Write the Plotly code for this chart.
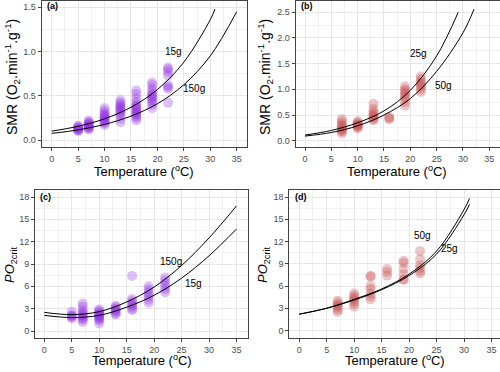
import plotly.graph_objects as go

# ---------------- DATA ----------------
# Panel (a): SMR, purple species
a_temp = [5]*8 + [7]*10 + [10]*12 + [13]*12 + [16]*15 + [19]*12 + [22]*8
a_smr = [0.10, 0.11, 0.12, 0.12, 0.13, 0.14, 0.15, 0.16,
         0.12, 0.13, 0.14, 0.15, 0.16, 0.17, 0.18, 0.19, 0.20, 0.22,
         0.17, 0.19, 0.20, 0.22, 0.23, 0.25, 0.26, 0.27, 0.29, 0.30, 0.33, 0.36,
         0.20, 0.24, 0.28, 0.30, 0.32, 0.34, 0.35, 0.37, 0.38, 0.40, 0.42, 0.45,
         0.22, 0.25, 0.27, 0.29, 0.30, 0.32, 0.33, 0.35, 0.37, 0.38, 0.40, 0.43, 0.47, 0.52, 0.56,
         0.36, 0.40, 0.43, 0.45, 0.47, 0.49, 0.50, 0.52, 0.55, 0.58, 0.62, 0.65,
         0.42, 0.58, 0.60, 0.62, 0.73, 0.77, 0.80, 0.82]
a_fit15_t = [0, 5, 10, 15, 20, 25, 30, 30.9]
a_fit15_v = [0.10, 0.155, 0.24, 0.37, 0.57, 0.88, 1.36, 1.48]
a_fit150_t = [0, 5, 10, 15, 20, 25, 30, 35]
a_fit150_v = [0.075, 0.114, 0.176, 0.27, 0.41, 0.625, 0.95, 1.45]

# Panel (b): SMR, red species
b_temp = [7]*10 + [10]*8 + [13]*9 + [16]*3 + [19]*9 + [22]*8
b_smr = [0.14, 0.18, 0.20, 0.22, 0.25, 0.27, 0.30, 0.33, 0.38, 0.42,
         0.24, 0.26, 0.28, 0.30, 0.31, 0.33, 0.35, 0.38,
         0.40, 0.42, 0.45, 0.47, 0.50, 0.53, 0.57, 0.62, 0.72,
         0.42, 0.44, 0.46,
         0.68, 0.75, 0.82, 0.86, 0.90, 0.93, 0.97, 1.00, 1.06,
         0.95, 1.00, 1.05, 1.08, 1.12, 1.15, 1.20, 1.25]
b_fit25_t = [0, 5, 10, 15, 20, 25, 29.1]
b_fit25_v = [0.11, 0.20, 0.35, 0.58, 0.98, 1.65, 2.50]
b_fit50_t = [0, 5, 10, 15, 20, 25, 30, 32.1]
b_fit50_v = [0.09, 0.16, 0.29, 0.50, 0.82, 1.35, 2.10, 2.56]

# Panel (c): PO2crit, purple species
c_temp = [5]*5 + [7]*10 + [10]*11 + [13]*7 + [16]*8 + [19]*7 + [22]*6
c_po2 = [1.7, 1.9, 2.0, 2.1, 2.6,
         1.2, 1.5, 1.7, 1.9, 2.1, 2.3, 2.5, 2.8, 3.3, 3.7,
         1.0, 1.4, 1.6, 1.8, 1.9, 2.0, 2.2, 2.3, 2.5, 2.7, 2.9,
         2.2, 2.4, 2.6, 2.8, 3.0, 3.2, 3.4,
         2.8, 3.0, 3.3, 3.5, 3.7, 4.0, 4.3, 7.4,
         3.8, 4.2, 4.6, 4.9, 5.2, 5.6, 6.0,
         5.2, 5.6, 6.0, 6.4, 6.8, 7.2]
c_fit150_t = [0, 5, 10, 15, 20, 25, 30, 35]
c_fit150_v = [2.5, 2.2, 2.6, 3.9, 5.9, 8.8, 12.5, 16.8]
c_fit15_t = [0, 5, 10, 15, 20, 25, 30, 35]
c_fit15_v = [2.1, 1.8, 2.1, 3.2, 4.8, 7.1, 10.1, 13.7]

# Panel (d): PO2crit, red species
d_temp = [7]*7 + [10]*7 + [13]*7 + [16]*3 + [19]*6 + [22]*6
d_po2 = [2.5, 2.8, 3.1, 3.3, 3.5, 3.7, 4.0,
         3.2, 3.6, 3.9, 4.2, 4.4, 4.7, 5.0,
         4.2, 4.6, 5.0, 5.6, 6.0, 7.3, 7.3,
         7.4, 7.9, 8.3,
         6.8, 6.9, 7.6, 8.3, 9.1, 9.4,
         7.7, 8.0, 8.4, 8.8, 9.6, 10.7]
d_fit50_t = [0, 5, 10, 15, 20, 25, 30, 31]
d_fit50_v = [2.2, 3.0, 4.2, 5.6, 7.6, 10.7, 16.3, 17.8]
d_fit25_t = [0, 5, 10, 15, 20, 25, 30, 31]
d_fit25_v = [2.2, 3.0, 4.1, 5.5, 7.4, 10.3, 15.6, 17.0]

x_ticks = [0, 5, 10, 15, 20, 25, 30, 35]
smr_a_ticks = [0.0, 0.5, 1.0, 1.5]
smr_b_ticks = [0.0, 0.5, 1.0, 1.5, 2.0, 2.5]
po2_ticks = [0, 3, 6, 9, 12, 15, 18]

# ---------------- LAYOUT GEOMETRY (pixels) ----------------
W, H = 500, 372
PURPLE = "rgba(145,48,224,0.30)"
RED = "rgba(200,80,80,0.32)"
FONT = "Liberation Sans, Arial, sans-serif"

geo = {
    "a": dict(x0=51.7, x35=236.7, left=41.5, right=246.5, yv0=140.0, vref=1.5, yvref=7.3, top=0.5, bottom=146.7),
    "b": dict(x0=305.0, x35=489.3, left=295.5, right=499.5, yv0=140.7, vref=2.5, yvref=12.3, top=0.5, bottom=146.7),
    "c": dict(x0=44.3, x35=236.5, left=35.0, right=248.0, yv0=331.0, vref=18, yvref=197.0, top=190.3, bottom=337.7),
    "d": dict(x0=299.2, x35=491.5, left=289.3, right=499.5, yv0=330.5, vref=18, yvref=197.0, top=190.3, bottom=337.7),
}

fig = go.Figure()

panels = [
    ("a", "", PURPLE, a_temp, a_smr, [(a_fit15_t, a_fit15_v), (a_fit150_t, a_fit150_v)], smr_a_ticks, "0.1f"),
    ("b", "2", RED, b_temp, b_smr, [(b_fit25_t, b_fit25_v), (b_fit50_t, b_fit50_v)], smr_b_ticks, "0.1f"),
    ("c", "3", PURPLE, c_temp, c_po2, [(c_fit150_t, c_fit150_v), (c_fit15_t, c_fit15_v)], po2_ticks, "d"),
    ("d", "4", RED, d_temp, d_po2, [(d_fit50_t, d_fit50_v), (d_fit25_t, d_fit25_v)], po2_ticks, "d"),
]

for key, sfx, col, tx, vy, fits, yticks, fmt in panels:
    g = geo[key]
    pxu = (g["x35"] - g["x0"]) / 35.0
    xr = [(g["left"] - g["x0"]) / pxu, (g["right"] - g["x0"]) / pxu]
    pyu = (g["yv0"] - g["yvref"]) / g["vref"]
    yr = [(g["yv0"] - g["bottom"]) / pyu, (g["yv0"] - g["top"]) / pyu]
    xa = "x" + sfx
    ya = "y" + sfx
    fig.add_trace(go.Scatter(x=tx, y=vy, mode="markers", xaxis=xa, yaxis=ya,
                             marker=dict(size=10, color=col, line=dict(width=0)),
                             showlegend=False, hoverinfo="skip"))
    for ft, fv in fits:
        fig.add_trace(go.Scatter(x=ft, y=fv, mode="lines", xaxis=xa, yaxis=ya,
                                 line=dict(color="black", width=1, shape="spline", smoothing=1.0),
                                 showlegend=False, hoverinfo="skip"))
    common = dict(showline=True, mirror=True, linecolor="#444444", linewidth=1,
                  ticks="outside", ticklen=3, tickcolor="#444444", tickwidth=1,
                  showgrid=True, gridcolor="#E6E6E6", gridwidth=1, zeroline=False,
                  tickfont=dict(family=FONT, size=9, color="#4d4d4d"))
    fig.layout["xaxis" + sfx] = dict(common, domain=[g["left"] / W, g["right"] / W], range=xr,
                                     anchor=ya, tickvals=x_ticks,
                                     minor=dict(showgrid=True, gridcolor="#F2F2F2", gridwidth=0.6,
                                                tickvals=[t + 2.5 for t in x_ticks[:-1]]))
    if fmt == "d":
        ticktext = [str(int(t)) for t in yticks]
    else:
        ticktext = ["%.1f" % t for t in yticks]
    mids = [(yticks[i] + yticks[i + 1]) / 2 for i in range(len(yticks) - 1)]
    fig.layout["yaxis" + sfx] = dict(common, domain=[1 - g["bottom"] / H, 1 - g["top"] / H], range=yr,
                                     anchor=xa, tickvals=yticks, ticktext=ticktext,
                                     minor=dict(showgrid=True, gridcolor="#F2F2F2", gridwidth=0.6,
                                                tickvals=mids))

ann = []
def pann(text, px, py, size=13, angle=0, **kw):
    ann.append(dict(text=text, x=px / W, y=1 - py / H, xref="paper", yref="paper",
                    showarrow=False, textangle=angle, xanchor=kw.get("xanchor", "center"),
                    yanchor=kw.get("yanchor", "middle"),
                    font=dict(family=FONT, size=size, color="black")))

temp_title = "Temperature (<sup>o</sup>C)"
pann(temp_title, 144, 171)
pann(temp_title, 397, 171)
pann(temp_title, 142, 360)
pann(temp_title, 395, 360)
smr_title = "SMR (O<sub>2</sub>.min<sup>-1</sup>.g<sup>-1</sup>)"
pann(smr_title, 12, 77, size=14, angle=-90)
pann(smr_title, 265, 77, size=14, angle=-90)
po2_title = "<i>PO</i><sub>2crit</sub>"
pann(po2_title, 10, 265, angle=-90)
pann(po2_title, 263, 265, angle=-90)

pann("<b>(a)</b>", 44.5, 6.5, size=9, xanchor="left")
pann("<b>(b)</b>", 298.5, 6.5, size=9, xanchor="left")
pann("<b>(c)</b>", 37.5, 197, size=9, xanchor="left")
pann("<b>(d)</b>", 292.5, 197, size=9, xanchor="left")

# curve labels (data coordinates)
def dann(text, x, y, sfx):
    ann.append(dict(text=text, x=x, y=y, xref="x" + sfx, yref="y" + sfx, showarrow=False,
                    font=dict(family=FONT, size=10, color="black")))

dann("15g", 23.0, 1.0, "")
dann("150g", 27.0, 0.58, "")
dann("25g", 21.5, 1.69, "2")
dann("50g", 26.3, 1.08, "2")
dann("150g", 23.0, 9.34, "3")
dann("15g", 27.1, 6.36, "3")
dann("50g", 22.4, 12.8, "4")
dann("25g", 27.4, 11.0, "4")

fig.update_layout(width=W, height=H, margin=dict(l=0, r=0, t=0, b=0),
                  paper_bgcolor="white", plot_bgcolor="white", annotations=ann,
                  font=dict(family=FONT))

fig.write_html("out.html", config={"displayModeBar": False},
               post_script="document.body.style.margin='0px';document.body.style.overflow='hidden';")
